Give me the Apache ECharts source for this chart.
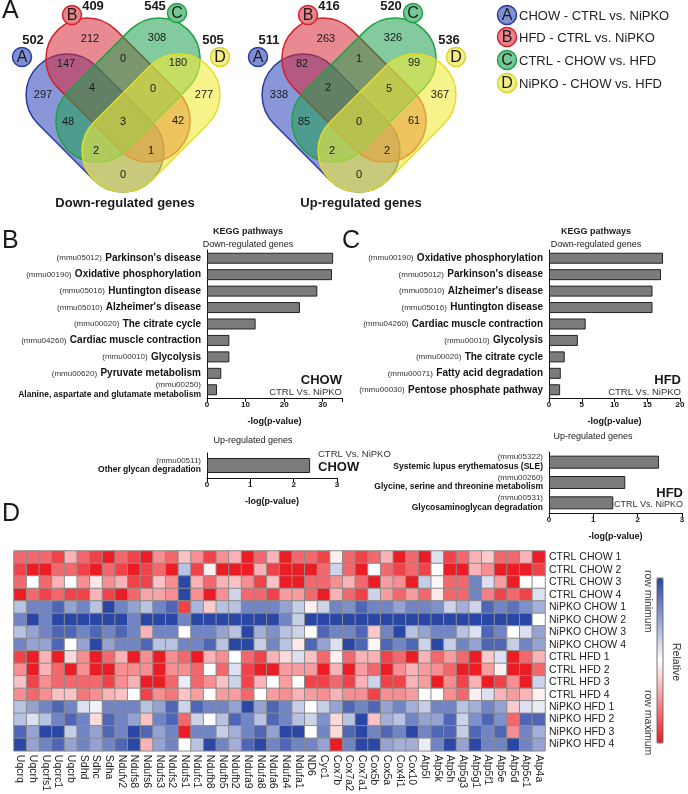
<!DOCTYPE html>
<html>
<head>
<meta charset="utf-8">
<script src="https://cdn.jsdelivr.net/npm/echarts@6.0.0/dist/echarts.min.js"></script>
<style>
  html, body { margin: 0; padding: 0; background: #fff; }
  #container { width: 688px; height: 794px; }
</style>
</head>
<body>
<div id="container"></div>
<script>
var FONT = '"Liberation Sans", Arial, sans-serif';

// ---- A: Venn counts ----
var vennLetters = ['A', 'B', 'C', 'D'];
var vennLegend = ['CHOW - CTRL vs. NiPKO', 'HFD - CTRL vs. NiPKO', 'CTRL - CHOW vs. HFD', 'NiPKO - CHOW vs. HFD'];
var downTotals = [502, 409, 545, 505];
var upTotals = [511, 416, 520, 536];
// regions: B, C, AB, BC, CD, A, ABC, BCD, D, AC, ABCD, BD, ACD, ABD, AD
var downRegions = [212, 308, 147, 0, 180, 297, 4, 0, 277, 48, 3, 42, 2, 1, 0];
var upRegions = [263, 326, 82, 1, 99, 338, 2, 5, 367, 85, 0, 61, 2, 2, 0];

// ---- B / C: KEGG pathways ----
var chowDownCodes = ['mmu05012', 'mmu00190', 'mmu05016', 'mmu05010', 'mmu00020', 'mmu04260', 'mmu00010', 'mmu00620', 'mmu00250'];
var chowDownNames = ["Parkinson's disease", 'Oxidative phosphorylation', 'Huntington disease', "Alzheimer's disease",
  'The citrate cycle', 'Cardiac muscle contraction', 'Glycolysis', 'Pyruvate metabolism',
  'Alanine, aspartate and glutamate metabolism'];
var chowDownValues = [32.7, 32.4, 28.6, 24.1, 12.6, 5.8, 5.8, 3.7, 2.6];

var chowUpCodes = ['mmu00511'];
var chowUpNames = ['Other glycan degradation'];
var chowUpValues = [2.38];

var hfdDownCodes = ['mmu00190', 'mmu05012', 'mmu05010', 'mmu05016', 'mmu04260', 'mmu00010', 'mmu00020', 'mmu00071', 'mmu00030'];
var hfdDownNames = ['Oxidative phosphorylation', "Parkinson's disease", "Alzheimer's disease", 'Huntington disease',
  'Cardiac muscle contraction', 'Glycolysis', 'The citrate cycle', 'Fatty acid degradation', 'Pentose phosphate pathway'];
var hfdDownValues = [17.4, 17.1, 15.8, 15.8, 5.6, 4.4, 2.4, 1.8, 1.7];

var hfdUpCodes = ['mmu05322', 'mmu00260', 'mmu00531'];
var hfdUpNames = ['Systemic lupus erythematosus (SLE)', 'Glycine, serine and threonine metabolism', 'Glycosaminoglycan degradation'];
var hfdUpValues = [2.48, 1.72, 1.45];

// ---- D: heatmap ----
var genes = ['Uqcrq', 'Uqcrh', 'Uqcrfs1', 'Uqcrc1', 'Uqcrb', 'Sdhd', 'Sdhc', 'Sdha', 'Ndufv2', 'Ndufs8', 'Ndufs6',
  'Ndufs3', 'Ndufs2', 'Ndufs1', 'Ndufc1', 'Ndufb8', 'Ndufb5', 'Ndufb2', 'Ndufa9', 'Ndufa8', 'Ndufa6', 'Ndufa4',
  'Ndufa1', 'ND6', 'Cyc1', 'Cox7b', 'Cox7a2', 'Cox7a1', 'Cox5b', 'Cox5a', 'Cox4i1', 'Cox10', 'Atp5l', 'Atp5k',
  'Atp5h', 'Atp5g3', 'Atp5g1', 'Atp5f1', 'Atp5e', 'Atp5d', 'Atp5c1', 'Atp4a'];
var samples = ['CTRL CHOW 1', 'CTRL CHOW 2', 'CTRL CHOW 3', 'CTRL CHOW 4', 'NiPKO CHOW 1', 'NiPKO CHOW 2',
  'NiPKO CHOW 3', 'NiPKO CHOW 4', 'CTRL HFD 1', 'CTRL HFD 2', 'CTRL HFD 3', 'CTRL HFD 4', 'NiPKO HFD 1',
  'NiPKO HFD 2', 'NiPKO HFD 3', 'NiPKO HFD 4'];
// relative expression, -3 = row minimum (blue) ... 3 = row maximum (red)
var heatValues = [
  [2,2,2,2.5,1,2,2.5,3,2,2.5,3,1.5,2,0.8, 1.5,2.5,1.5,1,3,2,1,3,2,2,2.5,0.2,2,2.5, 2,1,3,2,3,-0.5,2.5,2,1,0.7,2,2,1,3],
  [2.5,3,3,2,2,2.5,3,2,2.5,3,2.5,2,3,-1, 2.5,0.2,3,3,3,1,2.5,3,3,3,2,-0.7,2,3, 0,2,2.5,2,2.5,0,3,3,1,1.5,3,3,3,2.5],
  [2,0,2,1,0,1.5,0.3,1.5,1,2.5,2.5,0.8,1.5,-3, 1,2,1,0.8,1.5,2.5,0.8,3,3,2,2,1.5,1,2, 3,1.3,1.5,3,-0.8,0.1,2,2,-2,-0.5,1.3,3,0,0],
  [3,2,2.5,2,2.5,2.5,1,2.5,3,2,1.2,1.2,1.5,-3, 1.5,3,1.5,-0.7,2,2,2.5,1.3,1.3,2,3,1,2,2.5, -0.7,1.3,2,1.3,2,0.3,2,2,-2,1.7,2.5,2,2.5,-0.5],
  [-1,-2,-2,-2.5,-1.5,-2,-1,-3,-2,-1.5,-1,-2,-2.5,2.5, -1.2,0.7,-1,-1,-2,-2,-2,-1.5,-0.8,0.2,-0.7,-2,-1.8,-2.5, -2,-2,-1.5,-2,-2,-1.8,-0.7,-1.3,-0.7,-2.5,-2,-2.3,-1.8,-1.3],
  [-2,-3,-2,-3,-3,-3,-3,-3,-3,-2,-3,-3,-3,-2, -3,-3,-3,-3,-3,-3,-3,-2,-0.8,-3,-3,-3,-3,-3, -3,-3,-3,-3,-3,-3,-3,-3,-3,-3,-3,-3,-3,0],
  [-1,-1.5,-2,-2.5,-2.5,-2,-2.5,-2,-2.5,-2,1,-2,-2,0, -2,-2,-1.5,-1,-3,-1.3,-1.8,-1,-0.7,0,-2.5,-2,-2,-2.5, 0.7,-2,-3,-1,-1.5,-2,-2,-1,-0.5,-2.5,-2,0,-0.5,-1.5],
  [-2,-1.5,-1.5,-2.5,0,-1.5,-3,-1.5,-2,-2,-2.5,-1,-1,-2, -2,-2.5,-1,-3,-3,-0.8,-2,-1,0.3,-2.5,-1.5,-0.5,-3,-2.5, 0.1,-2.5,-2,-2.5,-0.7,-3,-0.8,-2,-1.5,-2.5,-2.5,-0.8,-2,-1.5],
  [2.5,3,1,3,0.5,1.5,3,2,1,3,1.5,3,1.5,2, 3,1,1.5,0,2,2.5,1,0.5,-0.5,0.8,2,0.2,2,1, 1,2.5,2,3,1,2,1.3,2,3,0.7,-0.5,3,2,1],
  [1.5,3,1,2,3,1.5,3,3,1.5,1.5,1.5,3,1.5,1.5, 2,0,2,-0.5,2.5,3,3,1.3,1.3,1.3,3,1,3,1.3, 2,3,1.5,1,1.3,1.5,2,3,3,1.3,0.2,3,3,2],
  [0.8,2.5,1.5,2,2,2,2,2.5,1.5,1,3,3,2,-0.3, 2,1.5,0.8,-0.7,2.5,1,0,1.3,0,2.5,2.5,2,2.5,1, -0.7,2.5,2.5,1,1.3,3,1.5,2.5,1,3,2.5,1.5,3,-0.7],
  [1.5,2,1.5,0.8,0.8,1.8,1.5,1,0.8,0,2.5,1.5,1.8,0.8, 1.3,0,1.3,1.3,2,0,1.3,1.5,1,1.3,1.5,1,1.5,1.5, 2.5,1.5,1.5,1.3,0,0,1.5,2,0.2,-0.5,1,1.3,1,0.2],
  [-1,-1.5,-2,-2.5,-2,-0.5,-0.2,-2,-2,-2,-1,-1.5,-2.5,-0.7, -2.5,-2,-2,-1.5,-3,-1.5,-2.5,-2,-0.8,0,-0.8,-1.5,-2.5,-2, -2.5,-1.5,-2,-1.3,-0.8,-2,-2,-1,-1.3,-2,-1.5,0.7,-0.5,-0.3],
  [-1,-0.5,-1,-2,-2.5,-2,0.5,-2.5,-2,-1.5,0.8,-2,-2.5,2, -0.7,0,-1,-2.5,-2,-1,-2.5,-2,-1,-0.7,-1.8,0.5,-1,-3, 0.8,-1.3,-1,-2,-1.5,-1.5,-2.5,-0.7,-1.8,-2.5,-1.8,2,-2.5,-2.5],
  [-2.5,-1.5,-3,-3,-0.8,-2,-1.5,-2.5,-2,-3,-2.5,-1.5,-2,3, -2,-2,-0.8,-1.3,-2,-2.5,-1.5,-3,-3,0,-2,0.5,-2.5,-3, -2,-2.5,-2,-3,-2,-2.5,-2.5,-0.8,-2.5,-2,-2.5,1.5,-2,-1.3],
  [-3,-1.5,-2,-2.5,-1.5,-2,-1.5,-2,-2.5,-3,1,-1.5,-2,0, -1,-3,-2,-1.3,-2.5,-3,-2,-2.5,-2,-2,-1.5,3,-2,-3, -3,-1.5,-1.3,-1.3,-0.3,-2,-3,-1.5,-3,-2,-2,-3,-2,-1.5]
];

var heatData = [];
heatValues.forEach(function (row, r) {
  row.forEach(function (v, c) { heatData.push([c, r, v]); });
});

// ---- Venn drawing helpers ----
var capsules = [
  { cx: 95, cy: 123, len: 161, rot: -45, fill: 'rgba(40,65,185,0.55)', stroke: '#2b3b9c' },
  { cx: 118, cy: 90, len: 170, rot: -45, fill: 'rgba(215,40,55,0.55)', stroke: '#d2232c' },
  { cx: 128, cy: 90, len: 170, rot: 45, fill: 'rgba(30,160,80,0.55)', stroke: '#22a046' },
  { cx: 151, cy: 123, len: 161, rot: 45, fill: 'rgba(240,235,60,0.6)', stroke: '#e2de28' }
];
var letterFill = ['#7f90d6', '#e8858c', '#75c795', '#f3ef86'];
var letterStroke = ['#2b3b9c', '#d2232c', '#22a046', '#d8d428'];
var letterPos = [[22, 57], [72, 15], [177, 13], [220, 57]];
var totalPos = [[33, 40], [93, 6], [155, 6], [213, 40]];
var regionPos = [[90, 39], [157, 38], [66, 64], [123, 59], [178, 63], [43, 95], [92, 88], [153, 89],
  [204, 95], [68, 122], [123, 122], [178, 121], [96, 151], [151, 151], [123, 175]];

function txt(x, y, s, size, opts) {
  opts = opts || {};
  return {
    type: 'text', x: x, y: y, rotation: opts.rotation || 0, silent: true, z: 100,
    style: {
      text: s, fill: opts.color || '#1a1a1a',
      font: (opts.bold ? 'bold ' : '') + size + 'px ' + FONT,
      textAlign: opts.align || 'center', textVerticalAlign: 'middle',
      align: opts.align || 'center', verticalAlign: 'middle'
    }
  };
}

function letterCircle(x, y, i) {
  return [
    { type: 'circle', x: x, y: y, silent: true, z: 99, shape: { r: 9.5 },
      style: { fill: letterFill[i], stroke: letterStroke[i], lineWidth: 1.5 } },
    txt(x, y + 0.5, vennLetters[i], 16)
  ];
}

function venn(dx, totals, regions, title) {
  var els = [];
  capsules.forEach(function (c) {
    els.push({
      type: 'rect', x: c.cx + dx, y: c.cy, rotation: c.rot * Math.PI / 180, silent: true, z: 10,
      shape: { x: -c.len / 2, y: -41, width: c.len, height: 82, r: 41 },
      style: { fill: c.fill, stroke: c.stroke, lineWidth: 1.5 }
    });
  });
  for (var i = 0; i < 4; i++) {
    els = els.concat(letterCircle(letterPos[i][0] + dx, letterPos[i][1], i));
    els.push(txt(totalPos[i][0] + dx, totalPos[i][1], String(totals[i]), 13, { bold: true }));
  }
  regions.forEach(function (v, k) {
    els.push(txt(regionPos[k][0] + dx, regionPos[k][1], String(v), 11));
  });
  els.push(txt(125 + dx, 203, title, 13, { bold: true }));
  return els;
}

var graphics = [];
graphics = graphics.concat(venn(0, downTotals, downRegions, 'Down-regulated genes'));
graphics = graphics.concat(venn(236, upTotals, upRegions, 'Up-regulated genes'));
vennLegend.forEach(function (s, i) {
  var y = [15, 37, 60, 83][i];
  graphics = graphics.concat(letterCircle(507, y, i));
  graphics.push(txt(519, y + 1, s, 13, { align: 'left', color: '#222' }));
});

// panel letters
graphics.push(txt(2, 11, 'A', 25, { align: 'left' }));
graphics.push(txt(2, 241, 'B', 25, { align: 'left' }));
graphics.push(txt(342, 241, 'C', 25, { align: 'left' }));
graphics.push(txt(2, 514, 'D', 25, { align: 'left' }));

// bar panel annotations
graphics.push(txt(248, 232, 'KEGG pathways', 9, { bold: true }));
graphics.push(txt(248, 245, 'Down-regulated genes', 9));
graphics.push(txt(596, 232, 'KEGG pathways', 9, { bold: true }));
graphics.push(txt(596, 245, 'Down-regulated genes', 9));
graphics.push(txt(342, 380, 'CHOW', 13, { bold: true, align: 'right' }));
graphics.push(txt(342, 392, 'CTRL Vs. NiPKO', 9.5, { align: 'right', color: '#333' }));
graphics.push(txt(681, 380, 'HFD', 13, { bold: true, align: 'right' }));
graphics.push(txt(681, 392, 'CTRL Vs. NiPKO', 9.5, { align: 'right', color: '#333' }));
graphics.push(txt(253, 441, 'Up-regulated genes', 9));
graphics.push(txt(318, 454, 'CTRL Vs. NiPKO', 9.5, { align: 'left', color: '#333' }));
graphics.push(txt(318, 467, 'CHOW', 13, { bold: true, align: 'left' }));
graphics.push(txt(593, 437, 'Up-regulated genes', 9));
graphics.push(txt(683, 493, 'HFD', 13, { bold: true, align: 'right' }));
graphics.push(txt(683, 505, 'CTRL Vs. NiPKO', 9, { align: 'right', color: '#333' }));

// colour scale labels
graphics.push(txt(648, 570, 'row minimum', 10.5, { align: 'left', rotation: -Math.PI / 2, color: '#333' }));
graphics.push(txt(648, 690, 'row maximum', 10.5, { align: 'left', rotation: -Math.PI / 2, color: '#333' }));
graphics.push(txt(676, 662, 'Relative', 10.5, { rotation: -Math.PI / 2, color: '#333' }));
graphics.push({ type: 'rect', silent: true, z: 100, shape: { x: 657, y: 578, width: 6, height: 165 },
  style: { fill: 'none', stroke: '#555', lineWidth: 0.8 } });

// ---- axis builders ----
var richStyles = {
  c: { fontSize: 8, color: '#333', fontFamily: FONT, lineHeight: 9 },
  n: { fontSize: 10, fontWeight: 'bold', color: '#111', fontFamily: FONT },
  n2: { fontSize: 8.5, fontWeight: 'bold', color: '#111', fontFamily: FONT, lineHeight: 10 }
};

function pathwayAxis(gridIndex, names, codes, twoLine) {
  return {
    type: 'category', gridIndex: gridIndex, data: names, inverse: true,
    axisLine: { lineStyle: { color: '#111', width: 1 } },
    axisTick: { alignWithLabel: true, length: 4, lineStyle: { color: '#111' } },
    axisLabel: {
      margin: 6, interval: 0,
      formatter: function (v, i) {
        if (twoLine || v.length > 32) return '{c|(' + codes[i] + ')}\n{n2|' + v + '}';
        return '{c|(' + codes[i] + ')} {n|' + v + '}';
      },
      rich: richStyles
    }
  };
}

function valueAxis(gridIndex, max, interval) {
  return {
    type: 'value', gridIndex: gridIndex, min: 0, max: max, interval: interval,
    name: '-log(p-value)', nameLocation: 'middle', nameGap: 19,
    nameTextStyle: { fontFamily: FONT, fontSize: 9, fontWeight: 'bold', color: '#111' },
    splitLine: { show: false },
    axisLine: { show: true, lineStyle: { color: '#111', width: 1 } },
    axisTick: { show: true, length: 4, lineStyle: { color: '#111' } },
    axisLabel: {
      margin: 3, fontFamily: FONT, fontSize: 8, fontWeight: 'bold', color: '#111',
      formatter: function (v) { return v % interval === 0 ? String(v) : ''; }
    }
  };
}

function barSeries(idx, values, width) {
  return {
    type: 'bar', xAxisIndex: idx, yAxisIndex: idx, data: values, barWidth: width, silent: true,
    itemStyle: { color: '#7b7b7b', borderColor: '#222', borderWidth: 1 }
  };
}

var option = {
  animation: false,
  backgroundColor: '#fff',
  textStyle: { fontFamily: FONT },
  grid: [
    { left: 207, top: 250, width: 135, height: 148 },
    { left: 207, top: 453, width: 130, height: 25 },
    { left: 549, top: 250, width: 131, height: 148 },
    { left: 549, top: 452, width: 133, height: 61 },
    { left: 14, top: 551, width: 531, height: 202 }
  ],
  xAxis: [
    valueAxis(0, 35, 10),
    valueAxis(1, 3, 1),
    valueAxis(2, 20, 5),
    valueAxis(3, 3, 1),
    {
      type: 'category', gridIndex: 4, data: genes, position: 'bottom',
      axisLine: { show: false }, axisTick: { show: false }, splitLine: { show: false },
      axisLabel: { rotate: -90, interval: 0, margin: 4, fontFamily: FONT, fontSize: 10.5, color: '#222' }
    }
  ],
  yAxis: [
    pathwayAxis(0, chowDownNames, chowDownCodes, false),
    pathwayAxis(1, chowUpNames, chowUpCodes, true),
    pathwayAxis(2, hfdDownNames, hfdDownCodes, false),
    pathwayAxis(3, hfdUpNames, hfdUpCodes, true),
    {
      type: 'category', gridIndex: 4, data: samples, inverse: true, position: 'right',
      axisLine: { show: false }, axisTick: { show: false }, splitLine: { show: false },
      axisLabel: { interval: 0, margin: 4, fontFamily: FONT, fontSize: 10.5, color: '#222' }
    }
  ],
  visualMap: {
    type: 'continuous', seriesIndex: 4, dimension: 2, min: -3, max: 3,
    inRange: { color: ['#2a47a6', '#ffffff', '#ec1c24'] },
    orient: 'vertical', inverse: true, calculable: false, hoverLink: false,
    left: 657, top: 578, itemWidth: 6, itemHeight: 165, padding: 0
  },
  series: [
    barSeries(0, chowDownValues, 11),
    barSeries(1, chowUpValues, 15),
    barSeries(2, hfdDownValues, 11),
    barSeries(3, hfdUpValues, 13),
    {
      type: 'heatmap', xAxisIndex: 4, yAxisIndex: 4, data: heatData, silent: true,
      itemStyle: { borderColor: '#8c8c8c', borderWidth: 1 }
    }
  ],
  graphic: { elements: graphics }
};

var myChart = echarts.init(document.getElementById('container'), null, { renderer: 'canvas' });
myChart.setOption(option);
</script>
</body>
</html>
